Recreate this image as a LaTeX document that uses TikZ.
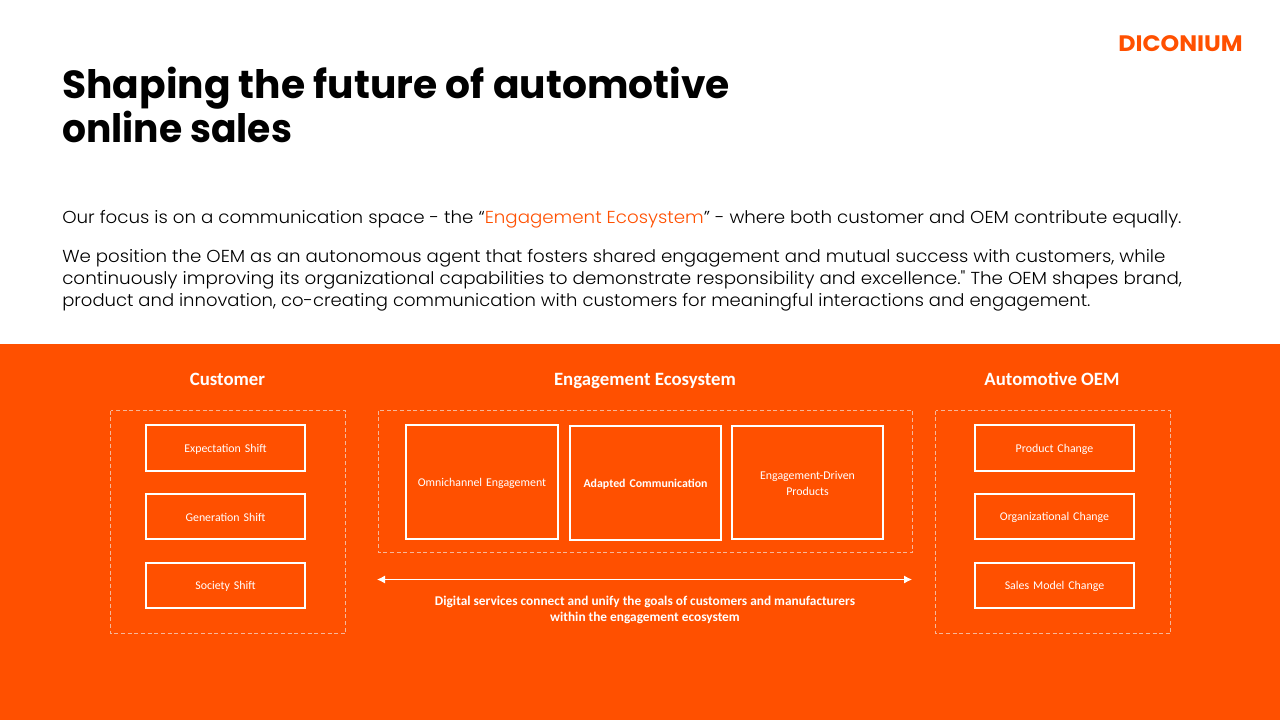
\documentclass[tikz,border=0pt]{standalone}
\usetikzlibrary{arrows.meta}
\usepackage{fontspec}
\setmainfont{Poppins}
\newfontfamily\diag{Carlito}
\newfontfamily\popx{Poppins}[UprightFont=* Bold]
\newfontfamily\popl{Poppins}[UprightFont=* Light]
\definecolor{dorange}{HTML}{FF5000}
\definecolor{dashgrey}{HTML}{F5B79A}
\tikzset{
 px/.style={x=0.75pt,y=-0.75pt},
 titleline/.style={anchor=base west,inner sep=0,font=\popx\fontsize{29.4}{30}\selectfont,text=black},
 bodyline/.style={anchor=base west,inner sep=0,font=\popl\fontsize{13}{13}\selectfont,text=black},
 head/.style={anchor=base,inner sep=0,text=white,font=\diag\bfseries\fontsize{14.1}{16}\selectfont},
 dashbox/.style={draw=dashgrey,line width=0.6pt,dash pattern=on 3pt off 2pt},
 solidbox/.style={draw=white,line width=1.5pt,text=white,inner sep=2pt,align=center,font=\diag\fontsize{8.9}{12}\selectfont},
}
\newcommand{\wbox}[6]{\node[solidbox,minimum width=#4*0.75pt,minimum height=#5*0.75pt,text width=#4*0.75pt-8pt] (#1) at (#2,#3) {\raisebox{-0.75pt}[\height][\depth]{#6}};}
\begin{document}
\begin{tikzpicture}[px]
\useasboundingbox (0,0) rectangle (1280,720);
\fill[white] (0,0) rectangle (1280,720);
\fill[dorange] (0,344) rectangle (1280,720);
\node[anchor=base east,inner sep=0,text=dorange,font=\popx\fontsize{16.8}{18}\selectfont] (logo) at (1243,51.5) {\scalebox{1.06}[1]{DICONIUM}};
\node[titleline] (t1) at (62,99) {Shaping the future of automotive};
\node[titleline] (t2) at (62,143) {\scalebox{0.96}[1]{online sales}};
\node[bodyline] (b1) at (62,223.7) {\scalebox{1.052}[1]{Our focus is on a communication space - the “\textcolor{dorange}{Engagement Ecosystem}” - where both customer and OEM contribute equally.}};
\node[bodyline] (b2) at (62,262.5) {\scalebox{1.0495}[1]{We position the OEM as an autonomous agent that fosters shared engagement and mutual success with customers, while}};
\node[bodyline] (b3) at (62,284) {\scalebox{1.057}[1]{continuously improving its organizational capabilities to demonstrate responsibility and excellence." The OEM shapes brand,}};
\node[bodyline] (b4) at (62,306) {\scalebox{1.039}[1]{product and innovation, co-creating communication with customers for meaningful interactions and engagement.}};
\node[head] (h1) at (227.5,385) {Customer};
\node[head] (h2) at (645,385) {Engagement Ecosystem};
\node[head] (h3) at (1052,385) {Automotive OEM};
\draw[dashbox] (110.5,410.5) rectangle (345.5,633.5);
\draw[dashbox] (378.5,410.5) rectangle (912.5,552.5);
\draw[dashbox] (935.5,410.5) rectangle (1170.5,633.5);
\wbox{c1}{225.5}{448}{159}{46}{Expectation Shift}
\wbox{c2}{225.5}{516.5}{159}{45}{Generation Shift}
\wbox{c3}{225.5}{585.5}{159}{45}{Society Shift}
\wbox{e1}{482}{482}{152}{114}{Omnichannel Engagement}
\wbox{e2}{645.5}{483}{151}{114}{\bfseries Adapted Communication}
\wbox{e3}{807.5}{482.5}{151}{113}{\shortstack{Engagement-Driven\\[1.5pt]Products}}
\wbox{o1}{1054.5}{448}{159}{46}{Product Change}
\wbox{o2}{1054.5}{516.5}{159}{45}{Organizational Change}
\wbox{o3}{1054.5}{585.5}{159}{45}{Sales Model Change}
\coordinate (al) at (377,579.5);
\coordinate (ar) at (912,579.5);
\draw[white,line width=0.75pt,{Latex[length=6pt,width=6pt]}-{Latex[length=6pt,width=6pt]}] (al) -- (ar);
\node[text=white,align=center,inner sep=0,font=\diag\bfseries\fontsize{10}{12}\selectfont] (cap) at (645,609.8) {Digital services connect and unify the goals of customers and manufacturers\\within the engagement ecosystem};
\end{tikzpicture}
\end{document}
